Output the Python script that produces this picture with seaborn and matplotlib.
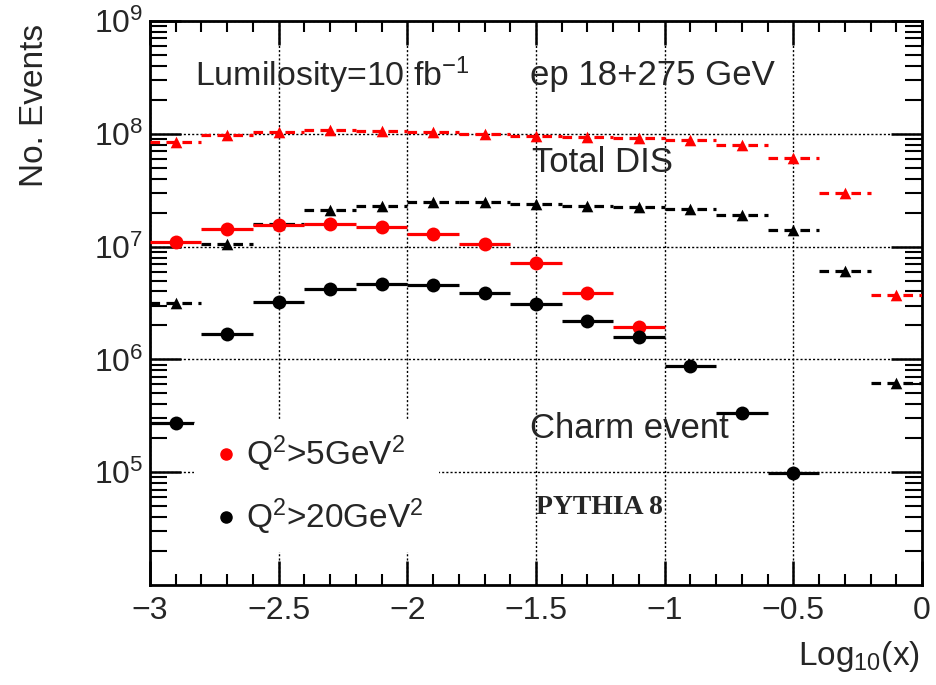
import numpy as np
import matplotlib
matplotlib.use("Agg")
import matplotlib.pyplot as plt
import matplotlib.ticker as mticker
from matplotlib.lines import Line2D
import seaborn as sns
import pandas as pd

# ---- data ----
bin_centers = [-2.9, -2.7, -2.5, -2.3, -2.1, -1.9, -1.7, -1.5, -1.3, -1.1, -0.9, -0.7, -0.5, -0.3, -0.1]
dis_q2_5 = [8.4e7, 9.8e7, 1.03e8, 1.08e8, 1.05e8, 1.03e8, 1.0e8, 9.6e7, 9.4e7, 9.2e7, 8.8e7, 7.9e7, 6.05e7, 2.97e7, 3.75e6]
dis_q2_20 = [3.16e6, 1.06e7, 1.6e7, 2.12e7, 2.28e7, 2.5e7, 2.48e7, 2.4e7, 2.31e7, 2.24e7, 2.14e7, 1.89e7, 1.39e7, 6.1e6, 6.2e5]
charm_centers_5 = [-2.9, -2.7, -2.5, -2.3, -2.1, -1.9, -1.7, -1.5, -1.3, -1.1]
charm_q2_5 = [1.1e7, 1.44e7, 1.57e7, 1.58e7, 1.49e7, 1.3e7, 1.06e7, 7.2e6, 3.9e6, 1.95e6]
charm_centers_20 = [-2.9, -2.7, -2.5, -2.3, -2.1, -1.9, -1.7, -1.5, -1.3, -1.1, -0.9, -0.7, -0.5]
charm_q2_20 = [2.74e5, 1.67e6, 3.2e6, 4.25e6, 4.65e6, 4.55e6, 3.87e6, 3.1e6, 2.2e6, 1.57e6, 8.8e5, 3.36e5, 9.9e4]
bin_half_width = 0.1
legend_labels = [r"Q$^{2}$>5GeV$^{2}$", r"Q$^{2}$>20GeV$^{2}$"]
x_ticks = [-3, -2.5, -2, -1.5, -1, -0.5, 0]
x_tick_labels = ["\u22123", "\u22122.5", "\u22122", "\u22121.5", "\u22121", "\u22120.5", "0"]
y_ticks = [1e5, 1e6, 1e7, 1e8, 1e9]
y_tick_labels = [r"$10^{5}$", r"$10^{6}$", r"$10^{7}$", r"$10^{8}$", r"$10^{9}$"]

sns.set_style("white")
plt.rcParams['font.family'] = ['Liberation Sans', 'DejaVu Sans']
plt.rcParams['mathtext.fontset'] = 'custom'
plt.rcParams['mathtext.rm'] = 'Liberation Sans'
plt.rcParams['mathtext.it'] = 'Liberation Sans:italic'
plt.rcParams['mathtext.bf'] = 'Liberation Sans:bold'

fig = plt.figure(figsize=(9.37, 6.85), dpi=100)
ax = fig.add_axes([150/937, 1-585/685, (922-150)/937, (585-21)/685])

def draw(xs, ys, color, marker, ls, ms):
    df = pd.DataFrame({"x": xs, "y": ys})
    ax.hlines(df["y"], df["x"] - bin_half_width, df["x"] + bin_half_width,
              colors=color, linestyles=ls, linewidth=2.3, zorder=3)
    sns.scatterplot(data=df, x="x", y="y", ax=ax, color=color, marker=marker,
                    s=ms, edgecolor=color, linewidth=0, zorder=4, legend=False)

draw(bin_centers, dis_q2_5, "#ff0000", "^", (0, (3, 2)), 70)
draw(bin_centers, dis_q2_20, "black", "^", (0, (3, 2)), 70)
draw(charm_centers_5, charm_q2_5, "#ff0000", "o", "solid", 100)
draw(charm_centers_20, charm_q2_20, "black", "o", "solid", 100)

ax.set_yscale("log")
ax.set_xlim(-3, 0)
ax.set_ylim(1e4, 1e9)
ax.set_xlabel("")
ax.set_ylabel("")
ax.set_xticks(x_ticks)
ax.xaxis.set_minor_locator(mticker.MultipleLocator(0.1))
ax.set_yticks(y_ticks)
ax.yaxis.set_minor_locator(mticker.LogLocator(base=10, subs=np.arange(2, 10), numticks=20))
ax.yaxis.set_minor_formatter(mticker.NullFormatter())
ax.set_xticklabels(x_tick_labels)
ax.set_yticklabels(y_tick_labels)

ax.tick_params(axis="both", which="both", direction="in", top=True, right=True,
               bottom=True, left=True, color="black")
ax.tick_params(axis="x", which="major", length=17, width=1.8, labelsize=23, pad=8)
ax.tick_params(axis="x", which="minor", length=8, width=1.5)
ax.tick_params(axis="y", which="major", length=22, width=1.8, labelsize=23, pad=5)
ax.tick_params(axis="y", which="minor", length=12, width=1.5)
for sp in ax.spines.values():
    sp.set_linewidth(2)
    sp.set_color("black")

ax.grid(True, which="major", axis="both", linestyle=(0, (1.5, 1.5)), color="black", linewidth=1.0, zorder=0)
ax.set_axisbelow(True)

# legend
handles = [Line2D([], [], marker="o", color="#ff0000", linestyle="none", markersize=8),
           Line2D([], [], marker="o", color="black", linestyle="none", markersize=8)]
leg = ax.legend(handles, legend_labels, loc="lower left", bbox_to_anchor=(0.057, 0.058),
                fontsize=24, frameon=True, facecolor="white", edgecolor="none",
                framealpha=1, handletextpad=0.12, labelspacing=0.68, borderpad=0.45,
                handlelength=1.0, borderaxespad=0)
leg.set_zorder(5)

fig.text(195/937, 1-75/685, r"Lumilosity=10 fb$^{-1}$", fontsize=24.5, ha="left", va="center")
fig.text(530/937, 1-75/685, "ep 18+275 GeV", fontsize=25, ha="left", va="center")
fig.text(532/937, 1-162/685, "Total DIS", fontsize=25, ha="left", va="center")
fig.text(530/937, 1-428/685, "Charm event", fontsize=25, ha="left", va="center")
fig.text(536/937, 1-507/685, "PYTHIA 8", fontsize=20, ha="left", va="center",
         family=["Liberation Serif", "DejaVu Serif"], fontweight="bold")
fig.text(35/937, 1-105/685, "No. Events", fontsize=24, rotation=90, ha="center", va="center")
fig.text(920/937, 1-657/685, r"Log$_{10}$(x)", fontsize=24, ha="right", va="center")

fig.savefig("out.png", dpi=100, facecolor="white")
